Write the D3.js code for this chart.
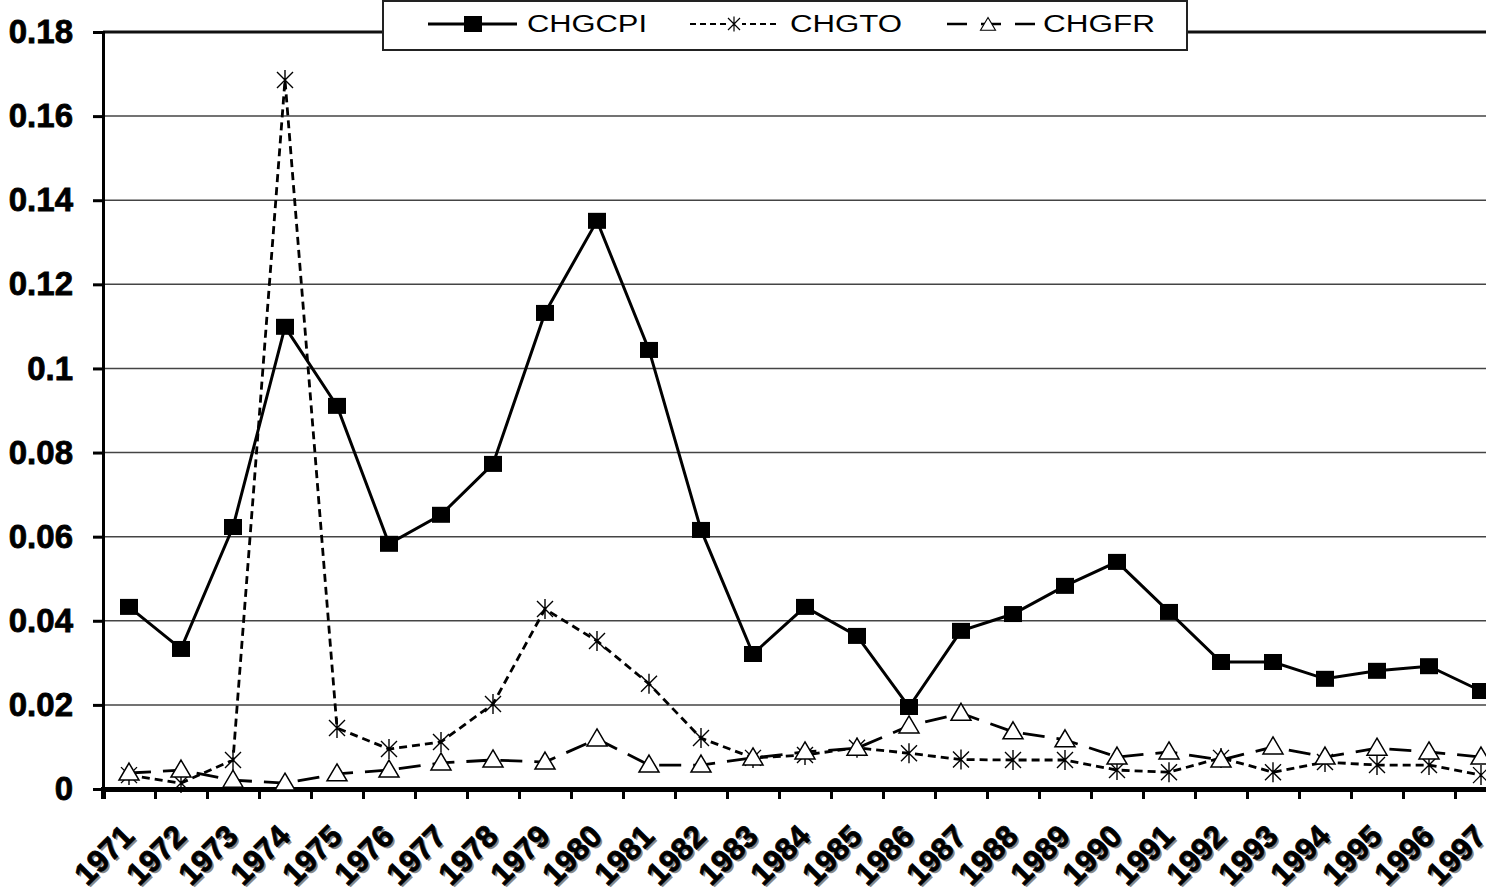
<!DOCTYPE html>
<html>
<head>
<meta charset="utf-8">
<script src="https://cdn.jsdelivr.net/npm/d3@7"></script>
<style>
  body { margin: 0; background: #fff; }
  svg { display: block; font-family: "Liberation Sans", Arial, sans-serif; }
</style>
</head>
<body>
<svg id="chart"></svg>
<script>
var years = d3.range(1971, 1998).map(String);
var chgcpi = [0.0433, 0.0333, 0.0623, 0.1099, 0.0911, 0.0583, 0.0652, 0.0773, 0.1132, 0.1351,
    0.1044, 0.0616, 0.0321, 0.0433, 0.0364, 0.0195, 0.0376, 0.0416, 0.0483, 0.054,
    0.0421, 0.0302, 0.0302, 0.0262, 0.0281, 0.0292, 0.0233];
var chgto = [0.0033, 0.0014, 0.0069, 0.1686, 0.0145, 0.0095, 0.0112, 0.0202, 0.0428, 0.0352,
    0.025, 0.0121, 0.0074, 0.0081, 0.0098, 0.0085, 0.007, 0.0069, 0.0069, 0.0045,
    0.004, 0.0074, 0.004, 0.0064, 0.0057, 0.0057, 0.0033];
var chgfr = [0.0038, 0.0045, 0.0021, 0.0014, 0.0036, 0.0045, 0.0062, 0.0069, 0.0064, 0.0119,
    0.0057, 0.0057, 0.0074, 0.0088, 0.0097, 0.015, 0.018, 0.0136, 0.0117, 0.0076,
    0.0088, 0.0069, 0.01, 0.0076, 0.0097, 0.0088, 0.0076];
var yTicks = [0, 0.02, 0.04, 0.06, 0.08, 0.1, 0.12, 0.14, 0.16, 0.18];
var seriesNames = ["CHGCPI", "CHGTO", "CHGFR"];

var width = 1486,
    height = 888,
    plotLeft = 103,
    step = 52,
    plotTop = 32,
    plotBottom = 789;

var svg = d3.select("#chart")
    .attr("width", width)
    .attr("height", height);

var x = d3.scaleBand()
    .domain(years)
    .range([plotLeft, plotLeft + step * years.length]);

var xEdge = d3.scaleLinear()
    .domain([0, years.length])
    .range([plotLeft, plotLeft + step * years.length]);

var y = d3.scaleLinear()
    .domain([0, 0.18])
    .range([plotBottom, plotTop]);

function cx(i) { return x(years[i]) + x.bandwidth() / 2; }

// gridlines
svg.append("g")
    .selectAll("line")
    .data(yTicks.filter(function (d) { return d > 0; }))
    .enter().append("line")
    .attr("x1", plotLeft)
    .attr("x2", width)
    .attr("y1", function (d) { return y(d); })
    .attr("y2", function (d) { return y(d); })
    .attr("stroke", function (d) { return d === 0.18 ? "#111" : "#444"; })
    .attr("stroke-width", function (d) { return d === 0.18 ? 3 : 1.5; });

// y axis
var yAxis = svg.append("g")
    .attr("transform", "translate(" + plotLeft + ",0)")
    .call(d3.axisLeft(y).tickValues(yTicks).tickSize(10).tickPadding(20)
        .tickFormat(function (d) { return d === 0 ? "0" : String(+d.toFixed(2)); }));
yAxis.select(".domain").attr("stroke", "#000").attr("stroke-width", 3);
yAxis.selectAll(".tick line").attr("stroke", "#000").attr("stroke-width", 3);
yAxis.selectAll(".tick text")
    .attr("fill", "#000")
    .style("font-size", "33px")
    .style("font-weight", "bold")
    .attr("stroke", "#000")
    .attr("stroke-width", 0.8);

// x axis: ticks at category edges, labels at centers
var xAxis = svg.append("g")
    .attr("transform", "translate(0," + plotBottom + ")")
    .call(d3.axisBottom(xEdge).tickValues(d3.range(years.length + 1)).tickSize(10).tickFormat(""));
xAxis.select(".domain").attr("stroke", "#000").attr("stroke-width", 5);
xAxis.selectAll(".tick line").attr("stroke", "#000").attr("stroke-width", 3);

var labels = svg.append("g");
labels.selectAll("text.shadow")
    .data(years)
    .enter().append("text")
    .attr("class", "shadow")
    .attr("transform", function (d) { return "translate(" + (x(d) + x.bandwidth() / 2 + 9) + "," + 840 + ") rotate(-45)"; })
    .attr("text-anchor", "end")
    .attr("fill", "#888")
    .style("font-size", "31px")
    .style("font-weight", "bold")
    .text(function (d) { return d; });
labels.selectAll("text.lab")
    .data(years)
    .enter().append("text")
    .attr("class", "lab")
    .attr("transform", function (d) { return "translate(" + (x(d) + x.bandwidth() / 2 + 7) + "," + 838 + ") rotate(-45)"; })
    .attr("text-anchor", "end")
    .attr("fill", "#000")
    .attr("stroke", "#000")
    .attr("stroke-width", 0.8)
    .style("font-size", "31px")
    .style("font-weight", "bold")
    .text(function (d) { return d; });

// markers
var starPath = "M0,-10L0,10M-8,-8L8,8M-8,8L8,-8";
var triPath = "M0,-10L10,7L-10,7Z";

function line(values) {
    return d3.line()
        .x(function (d, i) { return cx(i); })
        .y(function (d) { return y(d); })(values);
}

// CHGTO
svg.append("path")
    .attr("d", line(chgto))
    .attr("fill", "none")
    .attr("stroke", "#000")
    .attr("stroke-width", 2.8)
    .attr("stroke-dasharray", "8,5");
svg.append("g").selectAll("path")
    .data(chgto)
    .enter().append("path")
    .attr("transform", function (d, i) { return "translate(" + cx(i) + "," + y(d) + ")"; })
    .attr("d", starPath)
    .attr("stroke", "#000")
    .attr("stroke-width", 1.4)
    .attr("fill", "none");

// CHGFR
svg.append("path")
    .attr("d", line(chgfr))
    .attr("fill", "none")
    .attr("stroke", "#000")
    .attr("stroke-width", 2.8)
    .attr("stroke-dasharray", "22,12");
svg.append("g").selectAll("path")
    .data(chgfr)
    .enter().append("path")
    .attr("transform", function (d, i) { return "translate(" + cx(i) + "," + y(d) + ")"; })
    .attr("d", triPath)
    .attr("stroke", "#000")
    .attr("stroke-width", 1.5)
    .attr("fill", "#fff");

// CHGCPI
svg.append("path")
    .attr("d", line(chgcpi))
    .attr("fill", "none")
    .attr("stroke", "#000")
    .attr("stroke-width", 3);
svg.append("g").selectAll("rect")
    .data(chgcpi)
    .enter().append("rect")
    .attr("x", function (d, i) { return cx(i) - 9; })
    .attr("y", function (d) { return y(d) - 8; })
    .attr("width", 18)
    .attr("height", 16)
    .attr("fill", "#000");

// legend
var legend = svg.append("g");
legend.append("rect")
    .attr("x", 383)
    .attr("y", 1)
    .attr("width", 804)
    .attr("height", 49)
    .attr("fill", "#fff")
    .attr("stroke", "#222")
    .attr("stroke-width", 2);

var legItems = [
    { x0: 428, x1: 517, mx: 473, tx: 527, tw: 120 },
    { x0: 690, x1: 780, mx: 734, tx: 790, tw: 112 },
    { x0: 947, x1: 1038, mx: 988, tx: 1043, tw: 112 }
];
var legY = 24;
legend.append("line").attr("x1", legItems[0].x0).attr("x2", legItems[0].x1)
    .attr("y1", legY).attr("y2", legY).attr("stroke", "#000").attr("stroke-width", 3);
legend.append("rect").attr("x", legItems[0].mx - 9).attr("y", legY - 8)
    .attr("width", 18).attr("height", 16).attr("fill", "#000");
legend.append("line").attr("x1", legItems[1].x0).attr("x2", legItems[1].x1)
    .attr("y1", legY).attr("y2", legY).attr("stroke", "#000").attr("stroke-width", 2)
    .attr("stroke-dasharray", "6,4");
legend.append("rect").attr("x", legItems[1].mx - 8).attr("y", legY - 9)
    .attr("width", 16).attr("height", 18).attr("fill", "#fff");
legend.append("path").attr("transform", "translate(" + legItems[1].mx + "," + legY + ") scale(0.75)")
    .attr("d", starPath).attr("stroke", "#000").attr("stroke-width", 1.6).attr("fill", "none");
legend.append("line").attr("x1", legItems[2].x0).attr("x2", legItems[2].x1)
    .attr("y1", legY).attr("y2", legY).attr("stroke", "#000").attr("stroke-width", 2.5)
    .attr("stroke-dasharray", "20,14");
legend.append("path").attr("transform", "translate(" + legItems[2].mx + "," + (legY + 1) + ") scale(0.75)")
    .attr("d", triPath).attr("stroke", "#000").attr("stroke-width", 1.5).attr("fill", "#fff");

legend.selectAll("text")
    .data(seriesNames)
    .enter().append("text")
    .attr("x", function (d, i) { return legItems[i].tx; })
    .attr("y", legY + 8)
    .attr("textLength", function (d, i) { return legItems[i].tw; })
    .attr("lengthAdjust", "spacingAndGlyphs")
    .attr("fill", "#000")
    .style("font-size", "23px")
    .text(function (d) { return d; });
</script>
</body>
</html>
